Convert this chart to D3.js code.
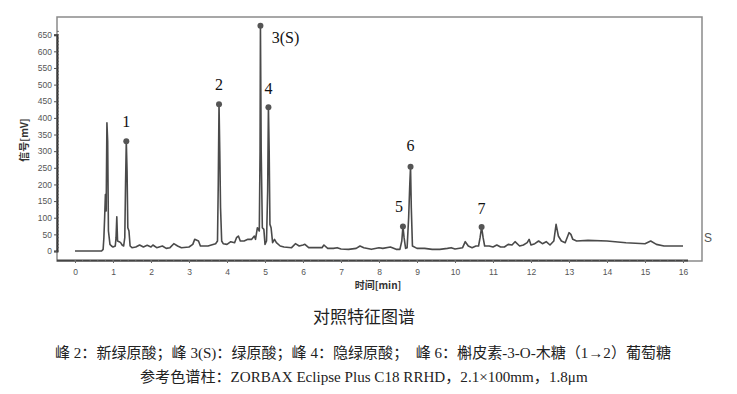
<!DOCTYPE html>
<html>
<head>
<meta charset="utf-8">
<script src="https://cdn.jsdelivr.net/npm/d3@7"></script>
<style>
  body { margin: 0; background: #fff; }
  svg { display: block; }
</style>
</head>
<body>
<div id="chart"></div>
<script>
// chromatogram trace: time [min] and signal [mV]
var traceTime = [0, 0.70, 0.74, 0.76, 0.78, 0.80, 0.82, 0.84, 0.86, 0.88, 0.92, 0.96, 1.00, 1.06, 1.08, 1.10, 1.12, 1.16, 1.20, 1.24, 1.28,
  1.31, 1.33, 1.35, 1.37, 1.39, 1.42, 1.45, 1.50, 1.60, 1.70, 1.80, 1.90, 2.00, 2.05, 2.15, 2.30, 2.40, 2.50, 2.60, 2.70, 2.80,
  3.00, 3.10, 3.15, 3.25, 3.30, 3.50, 3.70, 3.75, 3.77, 3.79, 3.81, 3.83, 3.86, 3.90, 4.00, 4.10, 4.20, 4.25, 4.30, 4.35, 4.45,
  4.55, 4.65, 4.72, 4.75, 4.80, 4.85, 4.87, 4.88, 4.90, 4.93, 4.97, 5.00, 5.04, 5.07, 5.09, 5.11, 5.13, 5.16, 5.20, 5.25, 5.30,
  5.40, 5.50, 5.70, 5.80, 5.90, 6.00, 6.05, 6.15, 6.30, 6.50, 6.55, 6.65, 6.80, 6.90, 7.00, 7.20, 7.40, 7.50, 7.60, 7.80, 8.00,
  8.10, 8.30, 8.45, 8.55, 8.60, 8.63, 8.66, 8.70, 8.74, 8.78, 8.81, 8.83, 8.85, 8.88, 9.00, 9.20, 9.40, 9.60, 9.80, 9.90, 10.00,
  10.20, 10.27, 10.35, 10.45, 10.55, 10.62, 10.66, 10.70, 10.74, 10.78, 10.90, 11.00, 11.10, 11.20, 11.30, 11.40, 11.50, 11.58,
  11.70, 11.80, 11.90, 11.95, 12.00, 12.10, 12.20, 12.30, 12.40, 12.50, 12.60, 12.66, 12.72, 12.80, 12.90, 13.00, 13.05, 13.10,
  13.20, 13.50, 14.00, 14.50, 15.00, 15.15, 15.30, 15.50, 16.00];
var traceSignal = [0, 0, 5, 40, 100, 170, 120, 385, 330, 60, 20, 15, 12, 15, 40, 103, 30, 28, 25, 18, 15,
  40, 200, 330, 240, 70, 60, 15, 10, 12, 18, 12, 17, 12, 18, 10, 15, 8, 10, 22, 15, 10,
  12, 20, 35, 30, 15, 15, 22, 30, 200, 441, 300, 130, 30, 22, 20, 28, 25, 40, 45, 30, 30,
  35, 35, 45, 35, 70, 60, 300, 677, 300, 70, 65, 20, 30, 180, 432, 300, 80, 70, 25, 35, 25,
  15, 12, 10, 22, 15, 18, 20, 10, 10, 10, 18, 8, 8, 10, 6, 5, 8, 15, 10, 5, 10,
  8, 12, 5, 5, 30, 74, 40, 8, 10, 100, 200, 253, 130, 15, 8, 8, 5, 5, 8, 10, 6,
  10, 28, 15, 10, 15, 15, 40, 72, 40, 15, 15, 12, 18, 12, 12, 20, 18, 28,
  15, 18, 25, 35, 18, 22, 30, 22, 28, 18, 30, 80, 45, 30, 25, 55, 50, 35,
  30, 32, 30, 25, 22, 30, 20, 15, 15];

// marked peaks
var peakNames = ["1", "2", "3(S)", "4", "5", "6", "7"];
var peakTimes = [1.35, 3.79, 4.88, 5.09, 8.63, 8.83, 10.70];
var peakValues = [330, 441, 677, 432, 74, 253, 72];

var xTicks = d3.range(0, 17, 1);
var yTicks = d3.range(0, 651, 50);

var title = "对照特征图谱";
var note1 = "峰 2：新绿原酸；峰 3(S)：绿原酸；峰 4：隐绿原酸；  峰 6：槲皮素-3-O-木糖（1→2）葡萄糖";
var note2 = "参考色谱柱：ZORBAX Eclipse Plus C18 RRHD，2.1×100mm，1.8μm";

var width = 737, height = 394;
var serif = "'Liberation Serif', 'Times New Roman', 'Noto Sans CJK SC', serif";
var sans = "'Liberation Sans', Arial, sans-serif";

var svg = d3.select("#chart").append("svg")
  .attr("width", width)
  .attr("height", height);

var x = d3.scaleLinear().domain([0, 16]).range([75, 683]);
var y = d3.scaleLinear().domain([0, 650]).range([251, 34.7]);

// frame
svg.append("rect")
  .attr("x", 57).attr("y", 17)
  .attr("width", 645).attr("height", 244)
  .attr("fill", "none")
  .attr("stroke", "#8a8a8a")
  .attr("stroke-width", 1.5);

// y axis
var yAxis = d3.axisLeft(y).tickValues(yTicks).tickSize(3).tickPadding(2);
var gy = svg.append("g").attr("transform", "translate(57,0)").call(yAxis);
gy.select(".domain").attr("stroke", "#333").attr("stroke-width", 2);
gy.selectAll(".tick line").attr("stroke", "#555");
gy.selectAll("text").style("font-family", sans)
  .attr("font-size", 8.5).attr("fill", "#555");
// minor y ticks
svg.append("g").selectAll("line")
  .data(d3.range(0, 661, 10))
  .enter().append("line")
  .attr("x1", 57).attr("x2", 59)
  .attr("y1", function(d) { return y(d); })
  .attr("y2", function(d) { return y(d); })
  .attr("stroke", "#555").attr("stroke-width", 0.8);

// x axis
var xAxis = d3.axisBottom(x).tickValues(xTicks).tickSize(3).tickPadding(6).tickSizeOuter(0);
var gx = svg.append("g").attr("transform", "translate(0,260)").call(xAxis);
gx.select(".domain").attr("stroke", "#444").attr("stroke-width", 1.8)
  .attr("d", "M57,0.5H688");
gx.selectAll(".tick line").attr("stroke", "#666");
gx.selectAll("text").style("font-family", sans)
  .attr("font-size", 8.5).attr("fill", "#555");
svg.append("g").selectAll("line")
  .data(d3.range(0, 16.01, 0.2))
  .enter().append("line")
  .attr("x1", function(d) { return x(d); })
  .attr("x2", function(d) { return x(d); })
  .attr("y1", 260).attr("y2", 262)
  .attr("stroke", "#777").attr("stroke-width", 0.8);

// axis titles
svg.append("text")
  .attr("transform", "translate(28,140) rotate(-90)")
  .attr("text-anchor", "middle")
  .style("font-family", "'Noto Sans CJK SC', sans-serif")
  .attr("font-size", 10)
  .attr("font-weight", "bold")
  .attr("fill", "#333")
  .text("信号[mV]");

svg.append("text")
  .attr("x", 378).attr("y", 289)
  .attr("text-anchor", "middle")
  .style("font-family", "'Noto Sans CJK SC', sans-serif")
  .attr("font-size", 10)
  .attr("font-weight", "bold")
  .attr("fill", "#333")
  .text("时间[min]");

// trace
var traceData = traceTime.map(function(t, i) { return [t, traceSignal[i]]; });
var line = d3.line()
  .x(function(d) { return x(d[0]); })
  .y(function(d) { return y(d[1]); });

svg.append("path")
  .datum(traceData)
  .attr("d", line)
  .attr("fill", "none")
  .attr("stroke", "#4a4a4a")
  .attr("stroke-width", 1.6)
  .attr("stroke-linejoin", "round");

// peak markers
var labelOffset = [[0, -14], [0, -14], [25, 17], [0, -13], [-4, -14], [0, -16], [0, -13]];
var peaks = peakNames.map(function(n, i) {
  return { name: n, t: peakTimes[i], v: peakValues[i], off: labelOffset[i] };
});

svg.append("g").selectAll("circle")
  .data(peaks)
  .enter().append("circle")
  .attr("cx", function(d) { return x(d.t); })
  .attr("cy", function(d) { return y(d.v); })
  .attr("r", 3)
  .attr("fill", "#555");

svg.append("g").selectAll("text")
  .data(peaks)
  .enter().append("text")
  .attr("x", function(d) { return x(d.t) + d.off[0]; })
  .attr("y", function(d) { return y(d.v) + d.off[1]; })
  .attr("text-anchor", "middle")
  .style("font-family", serif)
  .attr("font-size", 16)
  .attr("fill", "#111")
  .text(function(d) { return d.name; });

svg.append("text")
  .attr("x", 704).attr("y", 242)
  .style("font-family", sans)
  .attr("font-size", 12)
  .attr("fill", "#555")
  .text("S");

// captions
svg.append("text")
  .attr("x", 364).attr("y", 323)
  .attr("text-anchor", "middle")
  .style("font-family", serif)
  .attr("font-size", 17)
  .attr("fill", "#222")
  .text(title);

// fit a caption line to the width it has in the picture
function caption(str, x0, y0, targetWidth) {
  var t = svg.append("text")
    .attr("x", x0).attr("y", y0)
    .style("font-family", serif)
    .style("white-space", "pre")
    .attr("font-size", 13)
    .attr("fill", "#222")
    .text(str);
  var w = t.node().getComputedTextLength();
  if (w > 0) t.attr("font-size", 13 * targetWidth / w);
  return t;
}
caption(note1, 55, 358, 617);
caption(note2, 140, 382, 448);
</script>
</body>
</html>
